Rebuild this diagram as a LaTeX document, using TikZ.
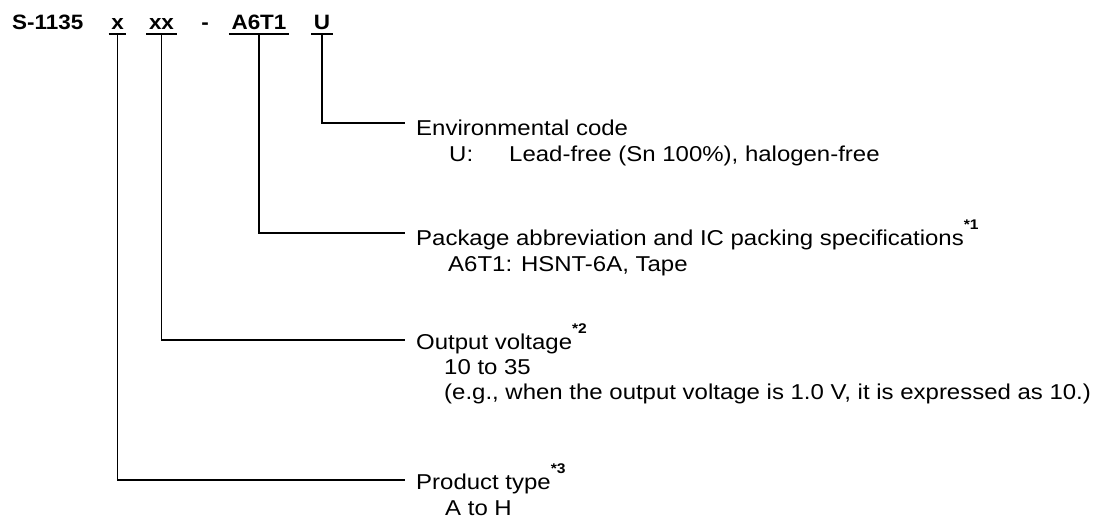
\documentclass[tikz,border=0pt]{standalone}
\usepackage{fontspec}
\setmainfont{Liberation Sans}[FakeStretch=1.115]
\newfontfamily\hdrfont{Liberation Sans}[FakeStretch=1.08]
\begin{document}
\begin{tikzpicture}[x=1pt,y=-1pt,
  every node/.style={inner sep=0pt, font=\fontsize{21.5pt}{25pt}\selectfont},
  hdr/.style={anchor=base, inner xsep=2.5pt, inner ysep=0pt, text depth=4pt, font=\hdrfont\fontsize{20.8pt}{25pt}\selectfont\bfseries},
  lbl/.style={anchor=base west},
  uline/.style={line width=1.7pt},
  conn/.style={line width=1.6pt}]
\useasboundingbox (0,0) rectangle (1100,522);
\newcommand{\noteref}[1]{\raisebox{16pt}{\fontsize{14pt}{15pt}\selectfont\bfseries *#1}}
% header
\node[hdr, anchor=base west, inner xsep=0pt] (pn) at (12,29.5) {S-1135};
\node[hdr] (cx) at (117.5,29.5) {x};
\node[hdr] (cxx) at (161.5,29.5) {xx};
\node[hdr] (cdash) at (205,29.5) {-};
\node[hdr] (cpk) at (259,29.5) {A6T1};
\node[hdr] (cu) at (322,29.5) {U};
\foreach \n in {cx,cxx,cpk,cu}
  \draw[uline] (\n.south west) -- (\n.south east);
% label texts
\node[lbl] (env) at (416,135) {Environmental code};
\node[lbl] (envu) at (449,161) {U:};
\node[lbl] (envd) at (509,161) {Lead-free (Sn 100\%), halogen-free};
\node[lbl] (pkg) at (416,245) {Package abbreviation and IC packing specifications\noteref{1}};
\node[lbl] (pkgd) at (448,271) {A6T1: HSNT-6A, Tape};
\node[lbl] (out) at (416,349) {Output voltage\noteref{2}};
\node[lbl] (outa) at (444,374) {10 to 35};
\node[lbl] (outb) at (444,399) {(e.g., when the output voltage is 1.0 V, it is expressed as 10.)};
\node[lbl] (prd) at (416,489) {Product type\noteref{3}};
\node[lbl] (prda) at (445,515) {A to H};
% connector ends
\coordinate (eu) at (405,123);
\coordinate (epk) at (405,233);
\coordinate (exx) at (405,340);
\coordinate (ex) at (405,480);
\draw[conn] (cu.south) |- (eu);
\draw[conn] (cpk.south) |- (epk);
\draw[conn] (cxx.south) |- (exx);
\draw[conn] (cx.south) |- (ex);
\end{tikzpicture}
\end{document}
